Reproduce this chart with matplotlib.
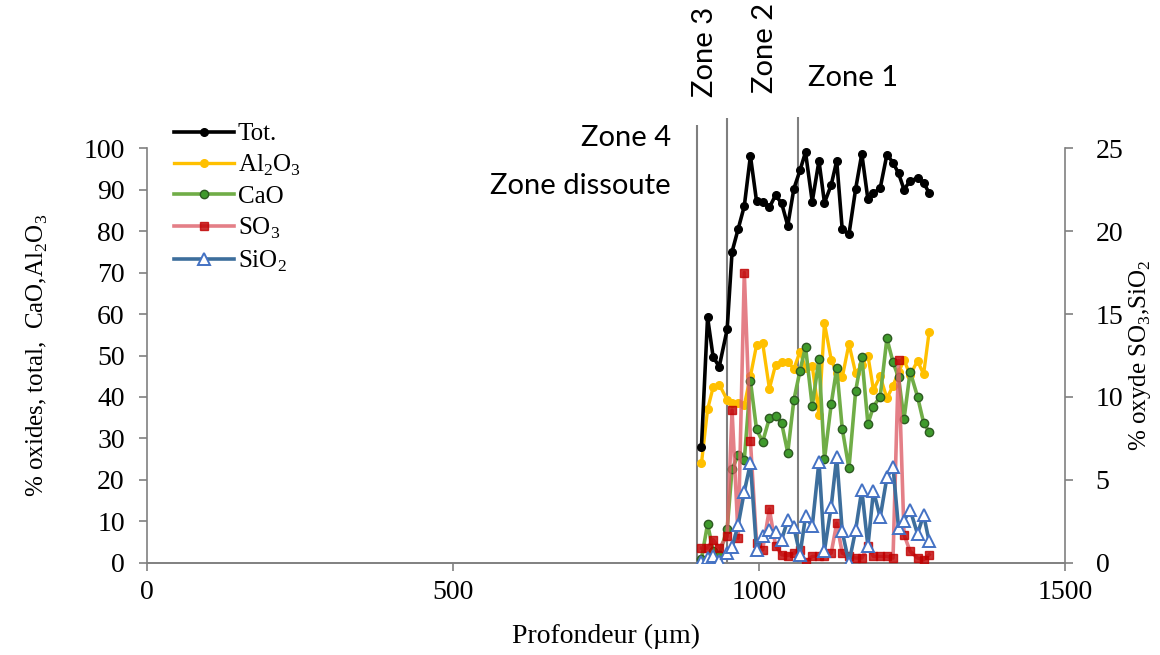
import numpy as np
import matplotlib
matplotlib.use('Agg')
import matplotlib.pyplot as plt

plt.rcParams['font.family'] = ['Liberation Serif', 'DejaVu Serif']
plt.rcParams['mathtext.fontset'] = 'custom'
plt.rcParams['mathtext.rm'] = 'Liberation Serif'

# profondeur (um)
depth = [906, 916, 925, 935, 948, 956, 966, 976, 986, 996, 1006, 1017, 1027,
         1037, 1047, 1057, 1067, 1076, 1087, 1098, 1107, 1118, 1127, 1136,
         1147, 1158, 1168, 1178, 1187, 1198, 1209, 1219, 1228, 1237, 1247,
         1259, 1269, 1278]

# axe gauche
tot = [28.0, 59.2, 49.7, 47.3, 56.3, 75.0, 80.5, 86.0, 98.1, 87.2, 87.1, 85.7,
       88.6, 86.7, 81.3, 90.2, 94.6, 99.0, 87.1, 96.9, 86.8, 91.1, 96.9, 80.4,
       79.2, 90.2, 98.6, 87.6, 89.1, 90.3, 98.4, 96.5, 93.9, 90.0, 92.1, 92.7,
       91.6, 89.2]
al2o3 = [24, 37, 42.3, 43, 39.3, 38.5, 38.5, 38, 45, 52.5, 53, 42, 47.7, 48.5,
         48.4, 46.8, 50.9, 47, 47.5, 35.7, 57.8, 49, 45.7, 44.7, 52.8, 45.7,
         47.7, 50, 41.7, 45, 39.7, 42.7, 46, 48.9, 45.3, 48.7, 45.5, 55.7]
cao = [1.0, 9.4, 3.0, 2.0, 8.1, 22.6, 26.0, 24.8, 43.9, 32.2, 29.2, 34.9, 35.5,
       33.7, 26.6, 39.3, 46.3, 52.1, 37.8, 49.1, 25.0, 38.3, 46.9, 32.4, 22.8,
       41.5, 49.7, 33.5, 37.7, 40.1, 54.1, 48.4, 44.7, 34.7, 46.1, 40.1, 33.8,
       31.6]

# axe droit
so3 = [0.9, 0.9, 1.4, 0.9, 1.6, 9.2, 1.5, 17.5, 7.35, 1.2, 0.8, 3.25, 1.05,
       0.5, 0.45, 0.6, 0.8, 0.05, 0.4, 0.4, 0.45, 0.6, 2.4, 0.6, 0.4, 0.3,
       0.3, 1.0, 0.4, 0.4, 0.4, 0.3, 12.2, 1.7, 0.7, 0.3, 0.2, 0.5]
sio2 = [0.05, 0.3, 0.4, 0.1, 0.6, 0.95, 2.3, 4.3, 6.0, 0.8, 1.6, 2.0, 1.85,
        1.4, 2.6, 2.15, 0.5, 2.8, 2.2, 6.1, 0.75, 3.4, 6.4, 1.9, 0.0, 2.0,
        4.4, 1.0, 4.35, 2.75, 5.15, 5.8, 2.1, 2.55, 3.2, 1.75, 2.9, 1.3]

zones_x = [899, 948, 1064]
zones_top = [105.5, 107.2, 107.4]

fig = plt.figure(figsize=(11.6, 6.55), dpi=100)
ax = fig.add_axes([0.1267, 0.1405, 0.7914, 0.6335])
ax2 = ax.twinx()

l1, = ax.plot(depth, tot, color='black', lw=2.6, marker='o', ms=5.5, zorder=5)
l2, = ax.plot(depth, al2o3, color='#FFC000', lw=2.4, marker='o', ms=5.5, zorder=3)
l3, = ax.plot(depth, cao, color='#70AD47', lw=2.6, marker='o', ms=6,
              mfc='#3F9A2C', mec='#2E5A22', mew=1.0, zorder=4)
l4, = ax2.plot(depth, so3, color='#DE5F69', alpha=0.8, lw=2.6, marker='s',
               ms=5.5, mfc='#C00000', mec='#C00000', zorder=3)
l5, = ax2.plot(depth, sio2, color='#3D6E9C', lw=2.6, marker='^', ms=8,
               mfc='white', mec='#4472C4', mew=1.4, zorder=4)

ax.set_xlim(0, 1500)
ax.set_ylim(0, 100)
ax2.set_ylim(0, 25)
ax.set_xticks([0, 500, 1000, 1500])
ax.set_yticks(range(0, 101, 10))
ax2.set_yticks(range(0, 26, 5))

for a in (ax, ax2):
    a.spines['top'].set_visible(False)
    for s in ('left', 'right', 'bottom'):
        a.spines[s].set_color('#808080')
        a.spines[s].set_linewidth(1.2)
    a.tick_params(labelsize=20, colors='#808080', labelcolor='black',
                  length=6, width=1.2, direction='out')
ax.tick_params(axis='y', pad=10)
ax2.tick_params(axis='y', pad=16)
ax.tick_params(axis='x', pad=6)
ax.spines['right'].set_visible(False)
ax2.spines['left'].set_visible(False)

ax.set_xlabel('Profondeur (µm)', fontsize=20, labelpad=14)
ax.set_ylabel('% oxides, total,  CaO,Al$_2$O$_3$', fontsize=18, labelpad=24)
ax2.set_ylabel('% oxyde SO$_3$,SiO$_2$', fontsize=18, labelpad=3, rotation=90)

ax.vlines(zones_x, 0, zones_top, colors='#7f7f7f', lw=1.5, clip_on=False, zorder=2)

zf = ['Lato', 'DejaVu Sans']
fig.text(705 / 1160, 1 - 52 / 655, 'Zone 3', rotation=90, fontsize=21,
         family=zf, ha='center', va='center')
fig.text(765 / 1160, 1 - 48 / 655, 'Zone 2', rotation=90, fontsize=21,
         family=zf, ha='center', va='center')
fig.text(808 / 1160, 1 - 78 / 655, 'Zone 1', fontsize=21, family=zf,
         ha='left', va='center')
fig.text(671 / 1160, 1 - 138 / 655, 'Zone 4', fontsize=21, family=zf,
         ha='right', va='center')
fig.text(671 / 1160, 1 - 186 / 655, 'Zone dissoute', fontsize=21, family=zf,
         ha='right', va='center')

fig.legend([l1, l2, l3, l4, l5],
           ['Tot.', 'Al$_2$O$_3$', 'CaO', 'SO$_3$', 'SiO$_2$'],
           loc='upper left', bbox_to_anchor=(174 / 1160, 1 - 123 / 655),
           frameon=False, fontsize=18, handlelength=2.4, handletextpad=0.15,
           labelspacing=0.3, borderpad=0, borderaxespad=0)

fig.savefig('out.png', dpi=100)
